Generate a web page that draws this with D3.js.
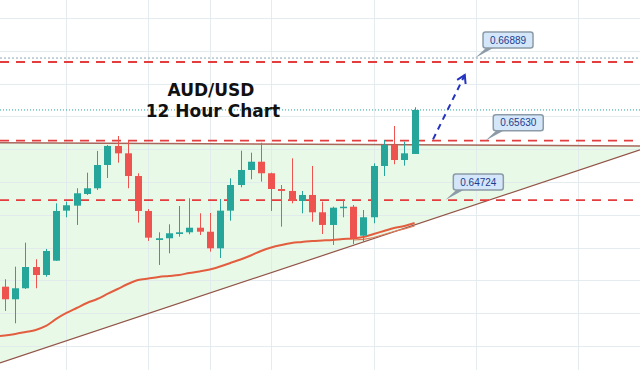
<!DOCTYPE html>
<html>
<head>
<meta charset="utf-8">
<script src="https://cdn.jsdelivr.net/npm/d3@7"></script>
<style>
body { margin: 0; background: #fff; }
svg { display: block; }
.title { font-family: "DejaVu Sans", Verdana, sans-serif; font-weight: bold; font-size: 17px; fill: #111; }
.tag { font-family: "Liberation Sans", Arial, sans-serif; font-size: 10px; fill: #1c3d8f; }
</style>
</head>
<body>
<div></div>
<script>
// AUD/USD 12h candles
var opens  = [0.63404,0.63212,0.63380,0.63704,0.63582,0.63800,0.64563,0.64639,0.64817,0.64904,0.65259,
              0.65549,0.65437,0.65091,0.64558,0.64116,0.64142,0.64207,0.64233,0.64303,0.64242,0.63989,
              0.64563,0.64954,0.65183,0.65309,0.65133,0.64893,0.64863,0.64710,0.64802,0.64538,0.64345,
              0.64608,0.64623,0.64181,0.64462,0.65244,0.65564,0.65335,0.65427];
var highs  = [0.63517,0.63709,0.64075,0.63822,0.63979,0.64675,0.64700,0.64904,0.65142,0.65473,0.65564,
              0.65701,0.65640,0.65133,0.64588,0.64233,0.64355,0.64634,0.64752,0.64523,0.64527,0.64741,
              0.65056,0.65477,0.65447,0.65599,0.65142,0.64954,0.65361,0.64863,0.65244,0.64700,0.64623,
              0.64736,0.64649,0.64573,0.65285,0.65640,0.65854,0.65614,0.66139];
var lows   = [0.63034,0.62846,0.63369,0.63380,0.63556,0.63796,0.64462,0.64345,0.64802,0.64878,0.65061,
              0.65294,0.64904,0.64380,0.64101,0.63735,0.63913,0.64166,0.64203,0.64192,0.63938,0.63841,
              0.64410,0.64919,0.65041,0.65005,0.64558,0.64319,0.64675,0.64523,0.64395,0.64207,0.64040,
              0.64462,0.64055,0.64090,0.64370,0.65091,0.65270,0.65249,0.65427];
var closes = [0.63212,0.63380,0.63704,0.63582,0.63948,0.64558,0.64645,0.64828,0.64904,0.65259,0.65549,
              0.65437,0.65091,0.64558,0.64151,0.64142,0.64218,0.64233,0.64303,0.64242,0.63989,0.64563,
              0.64954,0.65183,0.65309,0.65133,0.64893,0.64863,0.64710,0.64802,0.64538,0.64345,0.64608,
              0.64623,0.64142,0.64462,0.65244,0.65564,0.65335,0.65437,0.66098];

// moving average under the candles
var ma = [0.62652,0.62683,0.62713,0.62744,0.62805,0.62912,0.63003,0.63079,0.63155,0.63216,0.63293,
          0.63369,0.63445,0.63506,0.63529,0.63552,0.63567,0.63582,0.63613,0.63636,0.63666,0.63712,
          0.63765,0.63819,0.63880,0.63948,0.64002,0.64040,0.64070,0.64085,0.64101,0.64108,0.64116,
          0.64131,0.64139,0.64162,0.64207,0.64253,0.64299,0.64329,0.64375];
// second short line at the end (candles 34..40)
var ma2Start = 34;
var ma2 = [0.64116,0.64124,0.64154,0.64200,0.64245,0.64284,0.64329];

// drawn levels
var redLevels = [0.66829, 0.65630, 0.64724];
var greyLevel = 0.66889;
var lastPrice = 0.66098;
var resStart = [-0.5, 0.65598], resEnd = [62, 0.65549];
var trendStart = [-0.5, 0.62241], trendEnd = [62, 0.65488];

// callouts
var tagText  = ["0.66889", "0.65630", "0.64724"];
var tagIdx   = [45.9, 46.9, 43.0];
var tagPrice = [0.66889, 0.65630, 0.64724];

// projected move
var arrowFrom = [41.8, 0.65650], arrowTo = [44.9, 0.66630];

// grid
var gridIdx = [6, 14, 20, 26, 36, 46, 56];
var gridPrice = d3.range(0.625, 0.6801, 0.005);

var width = 640, height = 370;
var up = "#26a69a", down = "#ef5350";

var x = d3.scaleLinear().domain([0, 40]).range([5, 414.6]);
var y = d3.scaleLinear().domain([0.62134, 0.67774]).range([height, 0]);

var svg = d3.select("div").append("svg")
    .attr("width", width)
    .attr("height", height);

svg.append("rect")
    .attr("width", width)
    .attr("height", height)
    .attr("fill", "#fff");

function lineAt(a, b, i) { return a[1] + (i - a[0]) * (b[1] - a[1]) / (b[0] - a[0]); }
var i0 = x.invert(0), i1 = x.invert(width);

// triangle fill between resistance and the rising trendline
svg.append("path")
    .attr("d", d3.line()([
        [0, y(lineAt(resStart, resEnd, i0))], [width, y(lineAt(resStart, resEnd, i1))],
        [width, y(lineAt(trendStart, trendEnd, i1))], [0, y(lineAt(trendStart, trendEnd, i0))]
    ]) + "Z")
    .attr("fill", "#e8f9e7");

// grid
svg.append("g").selectAll("line")
    .data(gridPrice)
    .enter().append("line")
    .attr("x1", 0).attr("x2", width)
    .attr("y1", function(d) { return Math.round(y(d)) + 0.5; })
    .attr("y2", function(d) { return Math.round(y(d)) + 0.5; })
    .attr("stroke", "#dfe7ec")
    .attr("stroke-opacity", 0.8);

svg.append("g").selectAll("line")
    .data(gridIdx)
    .enter().append("line")
    .attr("y1", 0).attr("y2", height)
    .attr("x1", function(d) { return Math.round(x(d)) + 0.5; })
    .attr("x2", function(d) { return Math.round(x(d)) + 0.5; })
    .attr("stroke", "#dfe7ec")
    .attr("stroke-opacity", 0.8);

// dotted lines
svg.append("line")
    .attr("x1", 0).attr("x2", width)
    .attr("y1", y(greyLevel)).attr("y2", y(greyLevel))
    .attr("stroke", "#8fa6b3")
    .attr("stroke-dasharray", "2,2");

svg.append("line")
    .attr("x1", 0).attr("x2", width)
    .attr("y1", y(lastPrice)).attr("y2", y(lastPrice))
    .attr("stroke", up)
    .attr("stroke-dasharray", "1,2");

// resistance and trendline
svg.append("line")
    .attr("x1", 0).attr("x2", width)
    .attr("y1", y(lineAt(resStart, resEnd, i0)))
    .attr("y2", y(lineAt(resStart, resEnd, i1)))
    .attr("stroke", "#a8655a")
    .attr("stroke-width", 1.5);

svg.append("line")
    .attr("x1", 0).attr("x2", width)
    .attr("y1", y(lineAt(trendStart, trendEnd, i0)))
    .attr("y2", y(lineAt(trendStart, trendEnd, i1)))
    .attr("stroke", "#935447")
    .attr("stroke-width", 1.2);

// red dashed levels
svg.append("g").selectAll("line")
    .data(redLevels)
    .enter().append("line")
    .attr("x1", 0).attr("x2", width)
    .attr("y1", function(d) { return y(d); })
    .attr("y2", function(d) { return y(d); })
    .attr("stroke", "#e53d3d")
    .attr("stroke-width", 1.8)
    .attr("stroke-dasharray", "9,7");

// moving averages
svg.append("path")
    .datum(ma)
    .attr("d", d3.line()
        .x(function(d, i) { return i == 0 ? 0 : x(i); })
        .y(function(d) { return y(d); })
        .curve(d3.curveMonotoneX))
    .attr("fill", "none")
    .attr("stroke", "#e35d3f")
    .attr("stroke-width", 2);

svg.append("path")
    .datum(ma2)
    .attr("d", d3.line()
        .x(function(d, i) { return x(i + ma2Start); })
        .y(function(d) { return y(d); }))
    .attr("fill", "none")
    .attr("stroke", "#e07a5a")
    .attr("stroke-width", 1.2);

// candles
var idx = d3.range(opens.length);
var candles = svg.append("g").selectAll("g")
    .data(idx)
    .enter().append("g");

candles.append("line")
    .attr("x1", function(i) { return Math.round(x(i)) + 0.5; })
    .attr("x2", function(i) { return Math.round(x(i)) + 0.5; })
    .attr("y1", function(i) { return y(highs[i]); })
    .attr("y2", function(i) { return y(lows[i]); })
    .attr("stroke", function(i) { return closes[i] >= opens[i] ? up : down; })
    .attr("stroke-width", 1);

candles.append("rect")
    .attr("x", function(i) { return Math.round(x(i)) - 3; })
    .attr("width", 7)
    .attr("y", function(i) { return y(Math.max(opens[i], closes[i])); })
    .attr("height", function(i) { return Math.max(1.5, Math.abs(y(opens[i]) - y(closes[i]))); })
    .attr("fill", function(i) { return closes[i] >= opens[i] ? up : down; });

// projection arrow
var ax0 = x(arrowFrom[0]), ay0 = y(arrowFrom[1]);
var ax1 = x(arrowTo[0]), ay1 = y(arrowTo[1]);
svg.append("line")
    .attr("x1", ax0).attr("y1", ay0)
    .attr("x2", ax1).attr("y2", ay1)
    .attr("stroke", "#2433c0")
    .attr("stroke-width", 2)
    .attr("stroke-dasharray", "6,5");

var ang = Math.atan2(ay1 - ay0, ax1 - ax0);
var head = [ang + Math.PI - 0.55, ang + Math.PI + 0.55].map(function(a) {
    return [ax1 + 9 * Math.cos(a), ay1 + 9 * Math.sin(a)];
});
svg.append("path")
    .attr("d", d3.line()([head[0], [ax1, ay1], head[1]]))
    .attr("fill", "none")
    .attr("stroke", "#2433c0")
    .attr("stroke-width", 2);

// price callouts
tagText.forEach(function(t, k) {
    var px = x(tagIdx[k]), py = y(tagPrice[k]);
    var bx = px + 8, by = py - 26;
    svg.append("path")
        .attr("d", d3.line()([[px, py], [bx + 4, by + 15], [bx + 12, by + 15]]) + "Z")
        .attr("fill", "#8c9ba7");
    svg.append("rect")
        .attr("x", bx).attr("y", by)
        .attr("width", 50).attr("height", 16)
        .attr("rx", 2.5)
        .attr("fill", "#d4e6f9")
        .attr("stroke", "#8c9ba7")
        .attr("stroke-width", 1.5);
    svg.append("text")
        .attr("class", "tag")
        .attr("x", bx + 25).attr("y", by + 11.8)
        .attr("text-anchor", "middle")
        .text(t);
});

// title
svg.append("text")
    .attr("class", "title")
    .attr("x", 211).attr("y", 96)
    .attr("text-anchor", "middle")
    .text("AUD/USD");
svg.append("text")
    .attr("class", "title")
    .attr("x", 213).attr("y", 116.5)
    .attr("text-anchor", "middle")
    .text("12 Hour Chart");
</script>
</body>
</html>
